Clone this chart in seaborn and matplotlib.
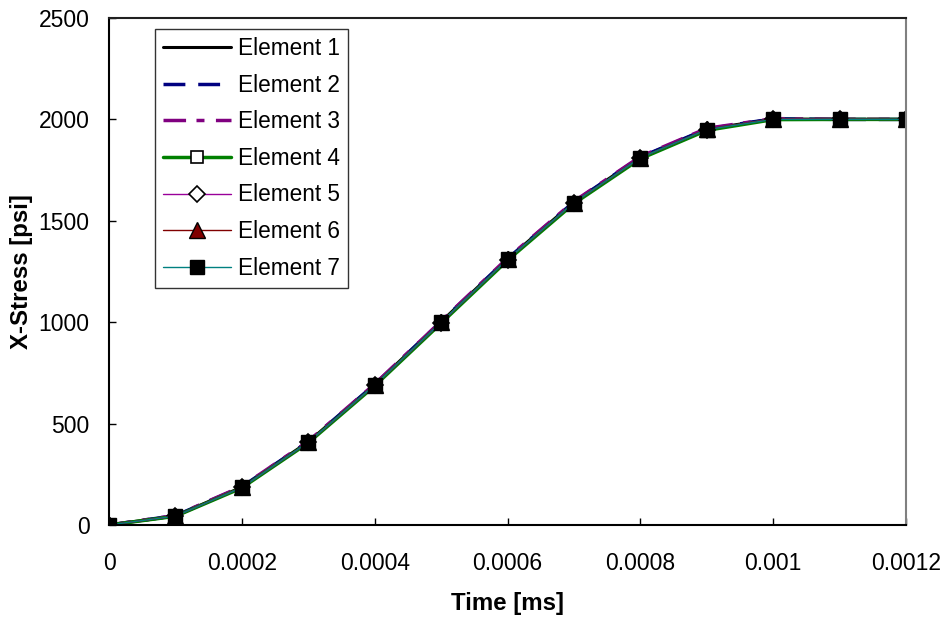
import matplotlib
matplotlib.use("Agg")
import matplotlib.pyplot as plt
import seaborn as sns
import pandas as pd
from matplotlib import font_manager

time = [0, 0.0001, 0.0002, 0.0003, 0.0004, 0.0005, 0.0006, 0.0007, 0.0008, 0.0009, 0.001, 0.0011, 0.0012]

element_1 = [0, 45, 187, 410, 692, 1002, 1312, 1592, 1813, 1952, 2002, 2000, 2000]
element_2 = [0, 46, 188, 411, 693, 1003, 1313, 1593, 1814, 1953, 2003, 2000, 2000]
element_3 = [0, 47, 190, 413, 695, 1005, 1316, 1596, 1817, 1956, 2004, 2001, 2001]
element_4 = [0, 43, 183, 405, 686, 995, 1305, 1585, 1806, 1946, 1999, 2000, 2000]
element_5 = [0, 44, 185, 407, 689, 998, 1309, 1589, 1810, 1950, 2003, 2001, 2000]
element_6 = [0, 44, 186, 408, 690, 1000, 1310, 1590, 1811, 1951, 2001, 2000, 2000]
element_7 = [0, 44, 185, 408, 690, 1000, 1310, 1590, 1811, 1950, 2000, 2000, 2000]

labels = ["Element 1", "Element 2", "Element 3", "Element 4", "Element 5", "Element 6", "Element 7"]
series = [element_1, element_2, element_3, element_4, element_5, element_6, element_7]
xtick_vals = [0, 0.0002, 0.0004, 0.0006, 0.0008, 0.001, 0.0012]
xtick_labels = ["0", "0.0002", "0.0004", "0.0006", "0.0008", "0.001", "0.0012"]
ytick_vals = [0, 500, 1000, 1500, 2000, 2500]
ytick_labels = ["0", "500", "1000", "1500", "2000", "2500"]

sns.set_theme(style="white")
plt.rcParams['font.family'] = ['Liberation Sans', 'DejaVu Sans']
plt.rcParams['text.color'] = 'black'
plt.rcParams['axes.labelcolor'] = 'black'
plt.rcParams['xtick.color'] = 'black'
plt.rcParams['ytick.color'] = 'black'

installed = {f.name for f in font_manager.fontManager.ttflist}
narrow = ['Liberation Sans Narrow', 'Liberation Sans', 'DejaVu Sans'] if 'Liberation Sans Narrow' in installed else ['Liberation Sans', 'DejaVu Sans']

fig = plt.figure(figsize=(9.43, 6.17), dpi=100)
ax = fig.add_axes([0.1156, 0.1491, 0.8452, 0.8217])

styles = [
    dict(color="black", lw=2.2, ls="-", marker=None),
    dict(color="#000080", lw=2.5, ls=(0, (6.3, 3.7)), marker=None),
    dict(color="#800080", lw=2.5, ls=(0, (6.5, 3.0, 2.3, 3.3)), marker=None),
    dict(color="#008000", lw=2.5, ls="-", marker="s", mfc="white", mec="black", ms=9, mew=1.2),
    dict(color="#990099", lw=1.0, ls="-", marker="D", mfc="white", mec="black", ms=8, mew=1.2),
    dict(color="#800000", lw=1.0, ls="-", marker="^", mfc="#800000", mec="black", ms=11, mew=1.0),
    dict(color="#008080", lw=1.0, ls="-", marker="s", mfc="black", mec="black", ms=10, mew=1.0),
]

for lab, vals, st in zip(labels, series, styles):
    df = pd.DataFrame({"Time": time, "Stress": vals})
    kw = dict(color=st["color"], linewidth=st["lw"], linestyle=st["ls"], label=lab)
    if st["marker"]:
        kw.update(marker=st["marker"], markerfacecolor=st["mfc"], markeredgecolor=st["mec"],
                  markersize=st["ms"], markeredgewidth=st["mew"])
    sns.lineplot(data=df, x="Time", y="Stress", ax=ax, **kw)

ax.set_xlim(0, 0.0012)
ax.set_ylim(0, 2500)
ax.set_xticks(xtick_vals)
ax.set_xticklabels(xtick_labels, fontsize=16.5)
ax.set_yticks(ytick_vals)
ax.set_yticklabels(ytick_labels, fontsize=16.5, family=narrow)
ax.tick_params(axis="both", direction="in", length=5, width=1, color="black",
               bottom=True, left=True, top=False, right=False)
ax.tick_params(axis="x", pad=19.5)
ax.tick_params(axis="y", pad=14)
ax.set_xlabel("Time [ms]", fontsize=17.3, fontweight="bold", labelpad=12)
ax.set_ylabel("X-Stress [psi]", fontsize=17.3, fontweight="bold", labelpad=4)
for side, sp in ax.spines.items():
    sp.set_color("black")
    sp.set_linewidth(1.5)
ax.spines["right"].set_color("#808080")
ax.spines["top"].set_color("#202020")

leg = ax.legend(loc="upper left", bbox_to_anchor=(0.0577, 0.978), fontsize=16.3, frameon=True,
                fancybox=False, edgecolor="black", handlelength=3.0, labelspacing=0.6,
                borderpad=0.35, handletextpad=0.3, borderaxespad=0)
leg.get_frame().set_linewidth(1.0)

fig.savefig("out.png", dpi=100)
